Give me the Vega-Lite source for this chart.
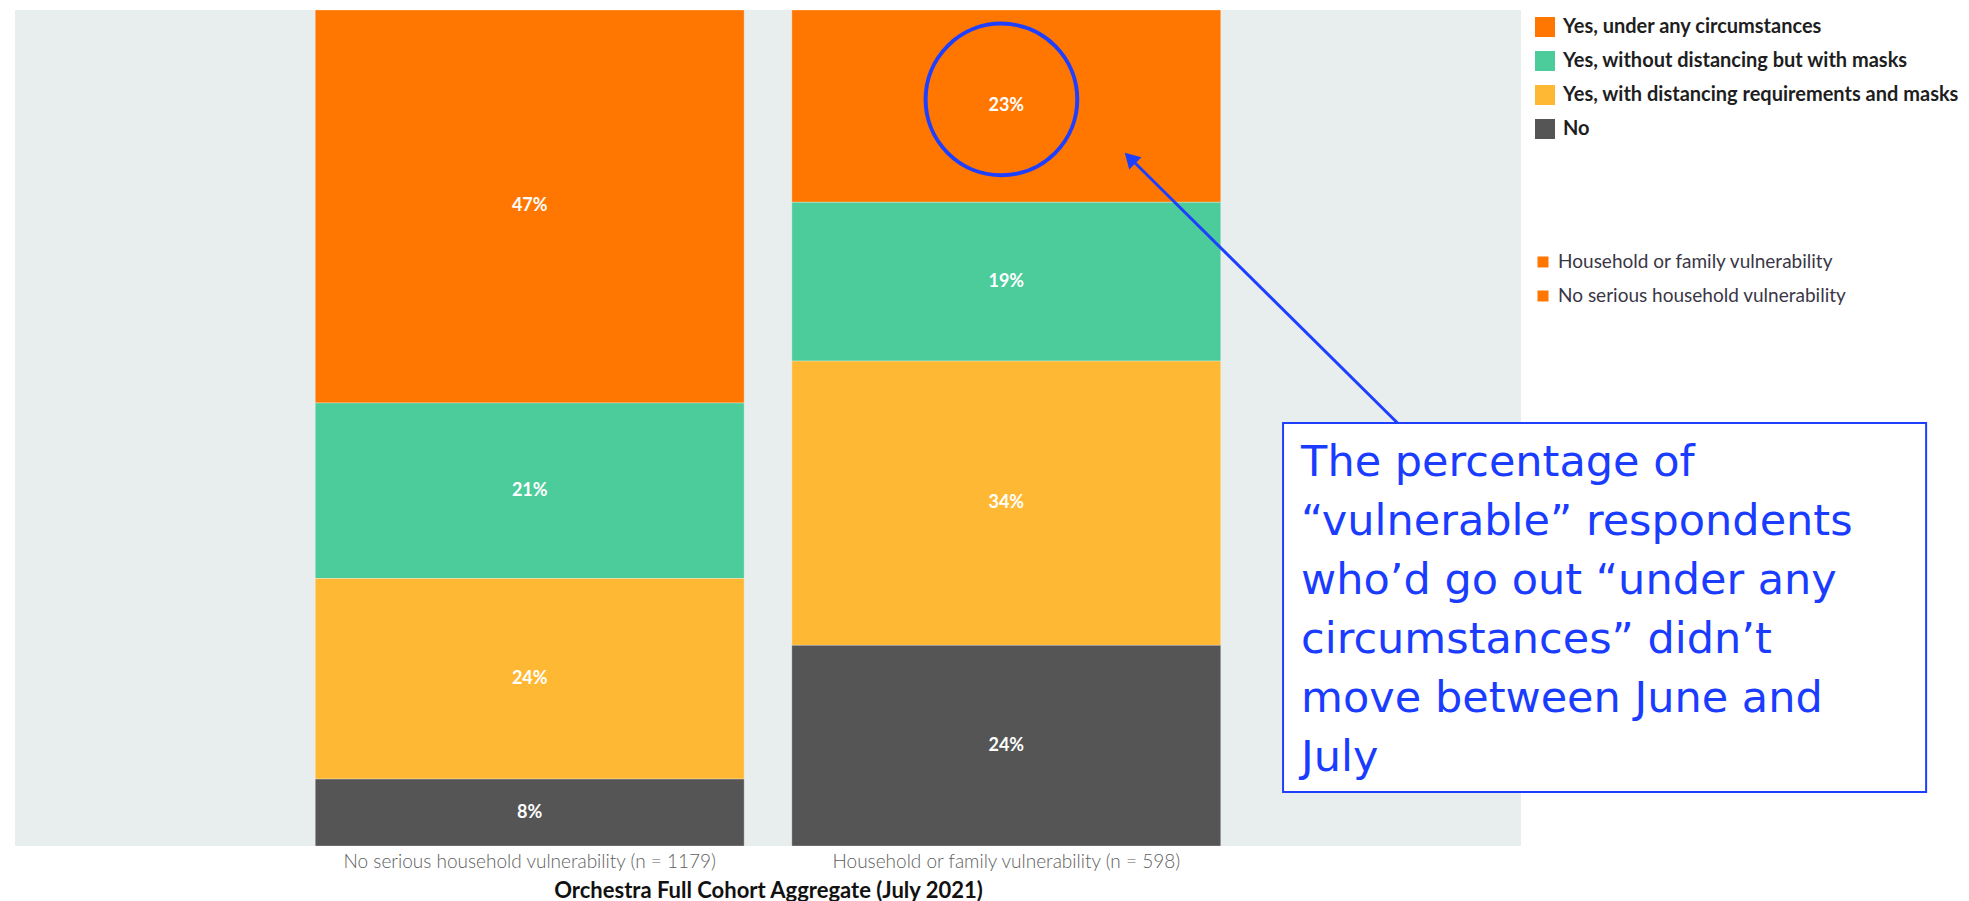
{
  "$schema": "https://vega.github.io/schema/vega-lite/v6.json",
  "width": 1506,
  "height": 836,
  "padding": {"left": 15, "top": 9, "right": 0, "bottom": 0},
  "background": "#ffffff",
  "config": {
    "view": {"fill": "#E8EEEE", "stroke": null},
    "font": "Lato"
  },
  "layer": [
    {
      "data": {
        "values": [
          {"group": "No serious household vulnerability (n = 1179)", "response": "Yes, under any circumstances", "k": 4, "pct": 0.47},
          {"group": "No serious household vulnerability (n = 1179)", "response": "Yes, without distancing but with masks", "k": 3, "pct": 0.21},
          {"group": "No serious household vulnerability (n = 1179)", "response": "Yes, with distancing requirements and masks", "k": 2, "pct": 0.24},
          {"group": "No serious household vulnerability (n = 1179)", "response": "No", "k": 1, "pct": 0.08},
          {"group": "Household or family vulnerability (n = 598)", "response": "Yes, under any circumstances", "k": 4, "pct": 0.23},
          {"group": "Household or family vulnerability (n = 598)", "response": "Yes, without distancing but with masks", "k": 3, "pct": 0.19},
          {"group": "Household or family vulnerability (n = 598)", "response": "Yes, with distancing requirements and masks", "k": 2, "pct": 0.34},
          {"group": "Household or family vulnerability (n = 598)", "response": "No", "k": 1, "pct": 0.24}
        ]
      },
      "encoding": {
        "x": {
          "field": "group",
          "type": "nominal",
          "sort": null,
          "scale": {"paddingInner": 0.1, "paddingOuter": 0.63},
          "axis": {
            "title": "Orchestra Full Cohort Aggregate (July 2021)",
            "labelAngle": 0,
            "labelFont": "Lato",
            "labelFontSize": 19,
            "labelFontWeight": 300,
            "labelColor": "#5E5E5E",
            "labelPadding": 6,
            "labelLimit": 1000,
            "ticks": false,
            "domain": false,
            "grid": false,
            "titleFont": "Lato",
            "titleFontSize": 22,
            "titleFontWeight": "bold",
            "titleColor": "#111111",
            "titlePadding": 9
          }
        }
      },
      "layer": [
        {
          "mark": {"type": "bar", "stroke": "#ffffff", "strokeWidth": 0.6, "strokeOpacity": 0.5},
          "encoding": {
            "y": {"field": "pct", "type": "quantitative", "stack": "zero", "scale": {"domain": [0, 1]}, "axis": null},
            "order": {"field": "k", "type": "quantitative"},
            "color": {
              "field": "response",
              "type": "nominal",
              "scale": {
                "domain": ["Yes, under any circumstances", "Yes, without distancing but with masks", "Yes, with distancing requirements and masks", "No"],
                "range": ["#FF7700", "#4DCC9B", "#FFB833", "#555555"]
              },
              "legend": {
                "title": null,
                "orient": "none",
                "legendX": 1520,
                "legendY": 7,
                "padding": 0,
                "symbolType": "square",
                "symbolSize": 400,
                "symbolStrokeWidth": 0,
                "labelFont": "Lato",
                "labelFontSize": 20,
                "labelFontWeight": "bold",
                "labelColor": "#1E1E1E",
                "labelOffset": 8,
                "rowPadding": 14,
                "labelLimit": 600
              }
            }
          }
        },
        {
          "mark": {"type": "text", "color": "#ffffff", "font": "Lato", "fontWeight": "bold", "fontSize": 18, "baseline": "middle"},
          "encoding": {
            "y": {"field": "pct", "type": "quantitative", "stack": "zero", "bandPosition": 0.5, "axis": null},
            "order": {"field": "k", "type": "quantitative"},
            "detail": {"field": "response"},
            "text": {"field": "pct", "type": "quantitative", "format": ".0%"}
          }
        }
      ]
    },
    {
      "data": {"values": [
        {"label": "Household or family vulnerability", "x": 1.0146, "tx": 1.0246, "y": 0.6986},
        {"label": "No serious household vulnerability", "x": 1.0146, "tx": 1.0246, "y": 0.6579}
      ]},
      "mark": {"type": "point", "shape": "square", "filled": true, "color": "#FF7700", "opacity": 1, "size": 121},
      "encoding": {
        "x": {"field": "x", "type": "quantitative", "scale": {"domain": [0, 1], "nice": false, "zero": false}, "axis": null},
        "y": {"field": "y", "type": "quantitative", "axis": null}
      }
    },
    {
      "data": {"values": [
        {"label": "Household or family vulnerability", "x": 1.0146, "tx": 1.0246, "y": 0.6986},
        {"label": "No serious household vulnerability", "x": 1.0146, "tx": 1.0246, "y": 0.6579}
      ]},
      "mark": {"type": "text", "align": "left", "baseline": "middle", "font": "Lato", "fontSize": 19, "color": "#3A3646"},
      "encoding": {
        "x": {"field": "tx", "type": "quantitative", "scale": {"domain": [0, 1], "nice": false, "zero": false}, "axis": null},
        "y": {"field": "y", "type": "quantitative", "axis": null},
        "text": {"field": "label", "type": "nominal"}
      }
    },
    {
      "data": {"values": [{"x": 0.842, "x2": 1.269, "y": 0.0646, "y2": 0.506}]},
      "mark": {"type": "rect", "fill": "#ffffff", "stroke": "#1F3FFF", "strokeWidth": 2},
      "encoding": {
        "x": {"field": "x", "type": "quantitative", "scale": {"domain": [0, 1], "nice": false, "zero": false}, "axis": null},
        "x2": {"field": "x2"},
        "y": {"field": "y", "type": "quantitative", "axis": null},
        "y2": {"field": "y2"}
      }
    },
    {
      "data": {"values": [{"x": 0.918, "x2": 0.7404, "y": 0.506, "y2": 0.823}]},
      "mark": {"type": "rule", "color": "#1F3FFF", "strokeWidth": 3},
      "encoding": {
        "x": {"field": "x", "type": "quantitative", "scale": {"domain": [0, 1], "nice": false, "zero": false}, "axis": null},
        "x2": {"field": "x2"},
        "y": {"field": "y", "type": "quantitative", "axis": null},
        "y2": {"field": "y2"}
      }
    },
    {
      "data": {"values": [{"x": 0.7404, "y": 0.823}]},
      "mark": {"type": "point", "shape": "triangle-up", "filled": true, "color": "#1F3FFF", "opacity": 1, "size": 300, "angle": 315},
      "encoding": {
        "x": {"field": "x", "type": "quantitative", "scale": {"domain": [0, 1], "nice": false, "zero": false}, "axis": null},
        "y": {"field": "y", "type": "quantitative", "axis": null}
      }
    },
    {
      "data": {"values": [{"x": 0.655, "y": 0.893}]},
      "mark": {"type": "point", "shape": "circle", "filled": false, "stroke": "#1F3FFF", "strokeWidth": 4, "opacity": 1, "size": 23000},
      "encoding": {
        "x": {"field": "x", "type": "quantitative", "scale": {"domain": [0, 1], "nice": false, "zero": false}, "axis": null},
        "y": {"field": "y", "type": "quantitative", "axis": null}
      }
    },
    {
      "data": {"values": [{"x": 0.854, "y": 0.4934, "note": "The percentage of\n“vulnerable” respondents\nwho’d go out “under any\ncircumstances” didn’t\nmove between June and\nJuly"}]},
      "mark": {"type": "text", "align": "left", "baseline": "line-top", "lineBreak": "\n", "lineHeight": 59, "font": "DejaVu Sans", "fontSize": 43, "color": "#1A3CFF"},
      "encoding": {
        "x": {"field": "x", "type": "quantitative", "scale": {"domain": [0, 1], "nice": false, "zero": false}, "axis": null},
        "y": {"field": "y", "type": "quantitative", "axis": null},
        "text": {"field": "note", "type": "nominal"}
      }
    }
  ],
  "resolve": {"scale": {"x": "independent"}}
}
